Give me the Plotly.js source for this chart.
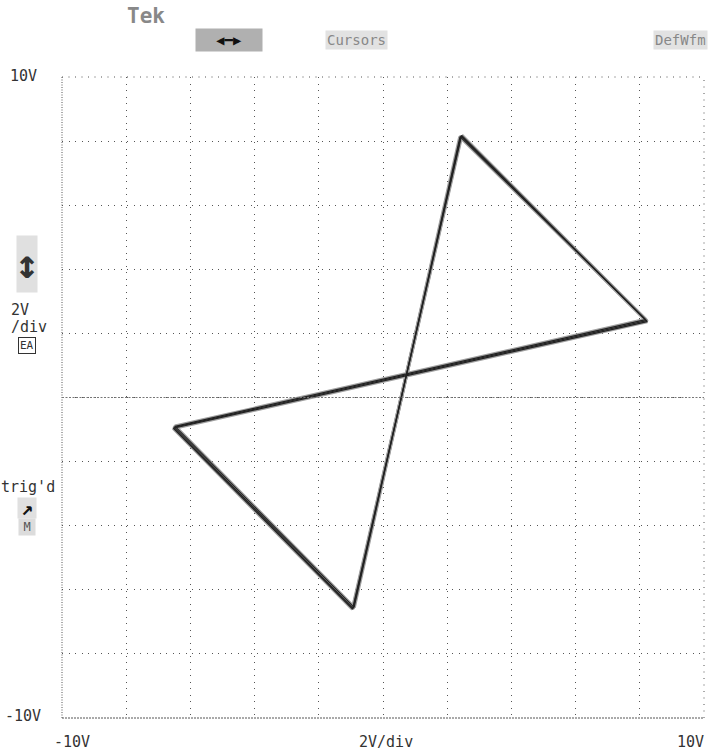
<!DOCTYPE html>
<html>
<head>
<meta charset="utf-8">
<script src="https://cdn.plot.ly/plotly-3.0.1.min.js"></script>
<style>html,body{margin:0;padding:0;background:#fff;}#chart{width:711px;height:750px;}</style>
</head>
<body>
<div id="chart"></div>
<script>
// XY-mode oscilloscope capture: channel 1 (X) vs channel 2 (Y), volts
// vertices of each sweep: top -> right -> left -> bottom -> top
var sweepAX = [2.43, 8.21, -6.51, -0.93, 2.43];
var sweepAY = [8.16, 2.40, -0.93, -6.58, 8.16];
var sweepBX = [2.40, 8.18, -6.48, -0.90, 2.40];
var sweepBY = [8.14, 2.43, -0.90, -6.55, 8.14];
var sweepCX = [2.45, 8.23, -6.53, -0.95, 2.45];
var sweepCY = [8.18, 2.37, -0.96, -6.60, 8.18];

var axisRange = [-10, 10];
var voltsPerDiv = 2;
var xTickLabels = ['-10V', '2V/div', '10V'];
var yTickLabels = ['-10V', '10V'];

var mono = 'DejaVu Sans Mono, Liberation Mono, monospace';
var sweeps = [[sweepAX, sweepAY], [sweepBX, sweepBY], [sweepCX, sweepCY]];
var traces = [];
sweeps.forEach(function (s) {
  traces.push({x: s[0], y: s[1], mode: 'lines', type: 'scatter',
    line: {color: '#a0a0a0', width: 3.6}, hoverinfo: 'skip', showlegend: false});
});
sweeps.forEach(function (s) {
  traces.push({x: s[0], y: s[1], mode: 'lines', type: 'scatter',
    line: {color: '#222', width: 1.2}, hoverinfo: 'skip', showlegend: false});
});

var gridStyle = {
  range: axisRange, dtick: voltsPerDiv, tick0: -10,
  showgrid: true, gridcolor: '#555', gridwidth: 1, griddash: '1px,5.5px',
  zeroline: false, showline: false, showticklabels: false, ticks: '',
  fixedrange: true
};

var ann = [];
function txt(t, x, y, size, color, extra) {
  var a = {text: t, x: x, y: y, xref: 'paper', yref: 'paper', showarrow: false,
    font: {family: mono, size: size, color: color}, xanchor: 'center', yanchor: 'middle'};
  for (var k in extra) a[k] = extra[k];
  ann.push(a);
}
// label placement helpers (plot spans x 62..704, y 77..718 in the page)
function px(xp) { return (xp - 62) / 642; }
function py(yp) { return (718 - yp) / 641; }
txt(yTickLabels[1], px(23), py(76), 15, '#333');
txt(yTickLabels[0], px(23), py(716), 15, '#333');
txt(xTickLabels[0], px(72), py(742), 15, '#333');
txt(xTickLabels[1], px(386), py(742), 15, '#333');
txt(xTickLabels[2], px(690), py(742), 15, '#333');
// header menu items
txt('<b>Tek</b>', px(146), py(16), 21, '#888');
txt('<b>\u25C0\u2501\u25B6</b>', px(229), py(40), 14, '#111', {bgcolor: '#b0b0b0', width: 64, height: 20});
txt('Cursors', px(356), py(40), 14, '#888', {bgcolor: '#e2e2e2'});
txt('DefWfm', px(680), py(40), 14, '#888', {bgcolor: '#e2e2e2'});
// left-side status
txt('<b>\u2195</b>', px(27), py(264), 40, '#333', {bgcolor: '#e0e0e0', width: 18, height: 54});
txt('2V', px(20), py(310), 15, '#333');
txt('/div', px(29), py(327), 15, '#333');
txt('EA', px(27), py(345), 11, '#333', {bordercolor: '#333', borderwidth: 1, borderpad: 1});
txt("trig'd", px(28), py(487), 15, '#333');
txt('<b>\u2197</b>', px(27), py(508), 20, '#111', {bgcolor: '#e0e0e0', width: 16, height: 18});
txt('M', px(27), py(527), 12, '#555', {bgcolor: '#dcdcdc', width: 14});

var shapes = [
  // plot border
  {type: 'line', xref: 'paper', yref: 'paper', x0: 0, x1: 0, y0: 0, y1: 1,
    line: {color: '#555', width: 1, dash: '1px,1.5px'}},
  {type: 'line', xref: 'paper', yref: 'paper', x0: 0, x1: 1, y0: 0, y1: 0,
    line: {color: '#555', width: 1, dash: '2px,1px'}},
  {type: 'line', xref: 'paper', yref: 'paper', x0: 0, x1: 1, y0: 1, y1: 1,
    line: {color: '#555', width: 1, dash: '1px,5.5px'}},
  {type: 'line', xref: 'paper', yref: 'paper', x0: 1, x1: 1, y0: 0, y1: 1,
    line: {color: '#555', width: 1, dash: '1px,5.5px'}},
  // dense centre horizontal graticule line
  {type: 'line', xref: 'paper', yref: 'y', x0: 0, x1: 1, y0: 0, y1: 0,
    line: {color: '#777', width: 1, dash: '2px,1.5px'}}
];

var layout = {
  width: 711, height: 750,
  margin: {l: 62, r: 7, t: 77, b: 32},
  paper_bgcolor: '#fff', plot_bgcolor: '#fff',
  xaxis: gridStyle,
  yaxis: Object.assign({}, gridStyle),
  annotations: ann,
  shapes: shapes,
  showlegend: false
};

Plotly.newPlot('chart', traces, layout, {staticPlot: true, displayModeBar: false});
</script>
</body>
</html>
